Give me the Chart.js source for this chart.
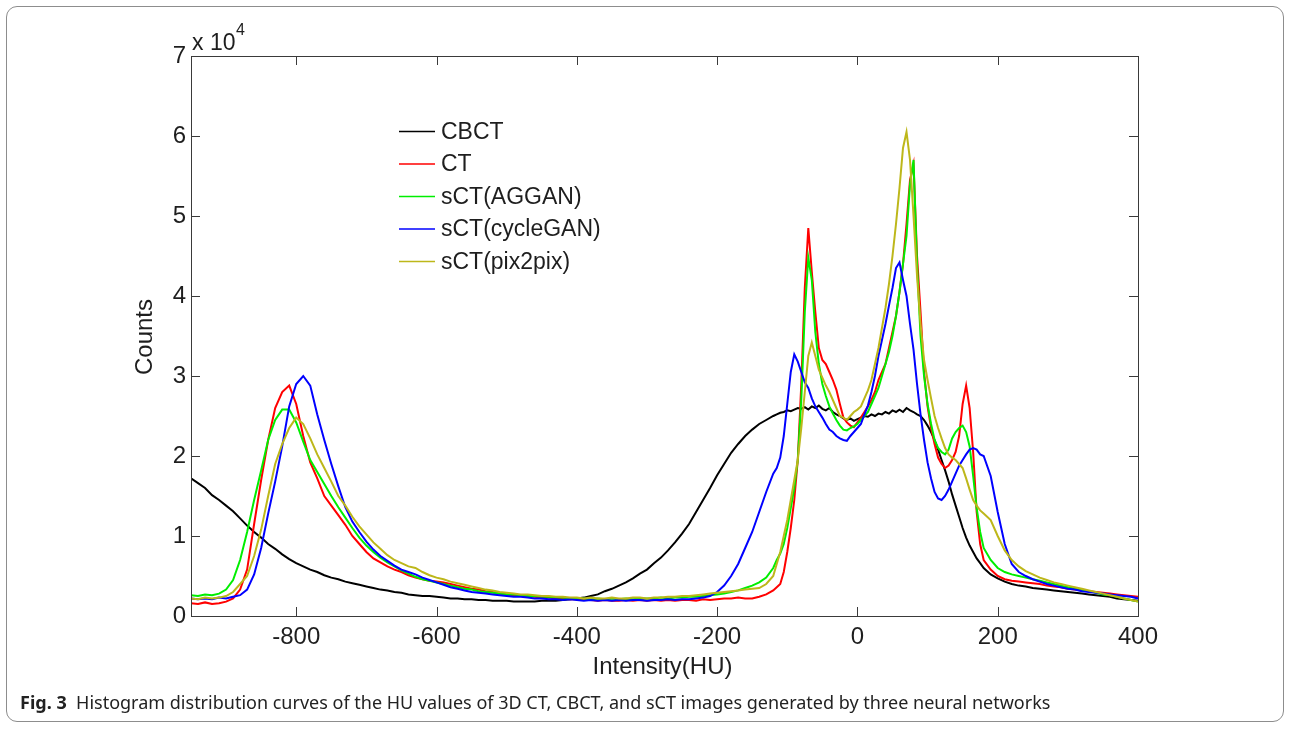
<!DOCTYPE html>
<html>
<head>
<meta charset="utf-8">
<script src="https://cdn.jsdelivr.net/npm/chart.js@4.4.1/dist/chart.umd.min.js"></script>
<style>
  body { margin: 0; background: #fff; }
  #wrap { position: relative; width: 1290px; height: 729px; overflow: hidden; }
  #frame { position: absolute; left: 6px; top: 6px; width: 1276px; height: 714px;
           border: 1.5px solid #8d8d8d; border-radius: 11px; }
  #myChart { position: absolute; left: 0; top: 0; }
  #caption { position: absolute; left: 20px; top: 690px; font-family: "Noto Sans", sans-serif;
             font-size: 18px; color: #222; white-space: nowrap; }
</style>
</head>
<body>
<div id="wrap">
  <div id="frame"></div>
  <canvas id="myChart" width="1290" height="700"></canvas>
  <div id="caption"><b>Fig. 3</b>&nbsp; Histogram distribution curves of the HU values of 3D CT, CBCT, and sCT images generated by three neural networks</div>
</div>
<script>
// --- Histogram bins (HU) ---
const hu = [
  -950, -940, -930, -920, -910, -900, -890, -880, -870, -860,
  -850, -840, -830, -820, -810, -800, -790, -780, -770, -760,
  -750, -740, -730, -720, -710, -700, -690, -680, -670, -660,
  -650, -640, -630, -620, -610, -600, -590, -580, -570, -560,
  -550, -540, -530, -520, -510, -500, -490, -480, -470, -460,
  -450, -440, -430, -420, -410, -400, -390, -380, -370, -360,
  -350, -340, -330, -320, -310, -300, -290, -280, -270, -260,
  -250, -240, -230, -220, -210, -200, -190, -180, -170, -160,
  -150, -140, -130, -120,
  -115, -110, -105, -100, -95, -90, -85, -80, -75, -70,
  -65, -60, -55, -50, -45, -40, -35, -30, -25, -20,
  -15, -10, -5, 0, 5, 10, 15, 20, 25, 30,
  35, 40, 45, 50, 55, 60, 65, 70, 75, 80,
  85, 90, 95, 100, 105, 110, 115, 120, 125, 130,
  135, 140, 145, 150, 155, 160, 165, 170, 175, 180,
  190, 200, 210, 220, 230, 240, 250, 260, 270, 280,
  290, 300, 310, 320, 330, 340, 350, 360, 370, 380,
  390, 400
];

// --- Counts (x 10^4) ---
const cbct = [
  1.72, 1.66, 1.60, 1.51, 1.45, 1.38, 1.31, 1.22, 1.13, 1.05,
  0.98, 0.90, 0.84, 0.77, 0.71, 0.66, 0.62, 0.58, 0.55, 0.51,
  0.48, 0.46, 0.43, 0.41, 0.39, 0.37, 0.35, 0.33, 0.32, 0.30,
  0.29, 0.27, 0.26, 0.25, 0.25, 0.24, 0.23, 0.22, 0.22, 0.21,
  0.21, 0.20, 0.20, 0.19, 0.19, 0.19, 0.18, 0.18, 0.18, 0.18,
  0.19, 0.19, 0.19, 0.20, 0.21, 0.22, 0.23, 0.25, 0.27, 0.31,
  0.34, 0.38, 0.42, 0.47, 0.53, 0.58, 0.66, 0.73, 0.82, 0.92,
  1.03, 1.15, 1.30, 1.45, 1.60, 1.76, 1.90, 2.04, 2.15, 2.25,
  2.33, 2.40, 2.45, 2.50,
  2.52, 2.54, 2.55, 2.57, 2.56, 2.58, 2.60, 2.59, 2.61, 2.58,
  2.62, 2.60, 2.63, 2.59, 2.57, 2.60, 2.55, 2.52, 2.50, 2.47,
  2.45, 2.47, 2.44, 2.46, 2.48, 2.50, 2.49, 2.52, 2.50, 2.53,
  2.52, 2.55, 2.53, 2.57, 2.55, 2.58, 2.55, 2.60, 2.57, 2.55,
  2.52, 2.50, 2.45, 2.38, 2.30, 2.20, 2.08, 1.95, 1.82, 1.68,
  1.52, 1.38, 1.24, 1.10, 0.98, 0.88, 0.80, 0.72, 0.66, 0.60,
  0.52, 0.47, 0.43, 0.40, 0.38, 0.37, 0.35, 0.34, 0.33, 0.32,
  0.31, 0.30, 0.29, 0.28, 0.27, 0.26, 0.25, 0.24, 0.22, 0.21,
  0.20, 0.19
];
const ct = [
  0.16, 0.15, 0.17, 0.15, 0.16, 0.18, 0.22, 0.33, 0.58, 1.15,
  1.70, 2.20, 2.60, 2.80, 2.88, 2.65, 2.25, 1.92, 1.72, 1.50,
  1.38, 1.26, 1.14, 1.00, 0.90, 0.80, 0.72, 0.67, 0.62, 0.58,
  0.55, 0.51, 0.48, 0.46, 0.44, 0.43, 0.42, 0.40, 0.38, 0.36,
  0.34, 0.33, 0.31, 0.30, 0.28, 0.27, 0.26, 0.25, 0.25, 0.24,
  0.23, 0.23, 0.22, 0.22, 0.21, 0.21, 0.20, 0.20, 0.19, 0.20,
  0.19, 0.19, 0.20, 0.19, 0.20, 0.19, 0.20, 0.19, 0.20, 0.19,
  0.20, 0.20, 0.19, 0.21, 0.20, 0.21, 0.22, 0.22, 0.23, 0.22,
  0.22, 0.24, 0.27, 0.32,
  0.36, 0.40, 0.55, 0.80, 1.10, 1.45, 1.95, 2.90, 4.10, 4.85,
  4.30, 3.80, 3.35, 3.20, 3.15, 3.05, 2.95, 2.83, 2.65, 2.48,
  2.42, 2.38, 2.36, 2.42, 2.48, 2.55, 2.62, 2.70, 2.80, 2.95,
  3.05, 3.15, 3.35, 3.55, 3.75, 4.05, 4.40, 4.90, 5.45, 5.65,
  4.50, 3.80, 3.05, 2.62, 2.35, 2.15, 1.98, 1.90, 1.85, 1.88,
  1.95, 2.05, 2.25, 2.65, 2.88, 2.60, 2.05, 1.30, 0.90, 0.70,
  0.58, 0.50, 0.46, 0.44, 0.43, 0.42, 0.41, 0.40, 0.38, 0.37,
  0.36, 0.34, 0.33, 0.32, 0.31, 0.30, 0.29, 0.28, 0.27, 0.26,
  0.25, 0.24
];
const sctAggan = [
  0.26, 0.25, 0.27, 0.26, 0.28, 0.33, 0.45, 0.70, 1.05, 1.45,
  1.82, 2.20, 2.45, 2.58, 2.58, 2.42, 2.18, 1.95, 1.80, 1.65,
  1.50, 1.36, 1.23, 1.10, 0.98, 0.88, 0.80, 0.73, 0.67, 0.62,
  0.57, 0.53, 0.49, 0.46, 0.44, 0.42, 0.40, 0.38, 0.36, 0.34,
  0.33, 0.31, 0.30, 0.29, 0.28, 0.27, 0.27, 0.26, 0.25, 0.25,
  0.24, 0.24, 0.23, 0.23, 0.22, 0.22, 0.22, 0.21, 0.22, 0.21,
  0.22, 0.21, 0.22, 0.21, 0.22, 0.22, 0.22, 0.23, 0.22, 0.23,
  0.23, 0.24, 0.24, 0.25, 0.26, 0.27, 0.28, 0.30, 0.32, 0.35,
  0.38, 0.42, 0.48, 0.60,
  0.70, 0.78, 0.90, 1.10, 1.35, 1.60, 1.95, 2.70, 3.80, 4.48,
  4.20, 3.55, 3.15, 2.90, 2.75, 2.62, 2.53, 2.45, 2.38, 2.33,
  2.32, 2.35, 2.37, 2.40, 2.45, 2.50, 2.55, 2.65, 2.75, 2.85,
  3.00, 3.15, 3.30, 3.50, 3.75, 4.05, 4.40, 4.75, 5.40, 5.70,
  4.40, 3.50, 3.00, 2.65, 2.40, 2.20, 2.10, 2.05, 2.02, 2.08,
  2.22, 2.30, 2.35, 2.38, 2.30, 2.12, 1.75, 1.35, 1.05, 0.85,
  0.70, 0.60, 0.55, 0.52, 0.50, 0.48, 0.46, 0.44, 0.42, 0.40,
  0.38, 0.36, 0.34, 0.32, 0.31, 0.29, 0.27, 0.26, 0.24, 0.22,
  0.20, 0.18
];
const sctCycleGan = [
  0.22, 0.21, 0.22, 0.21, 0.23, 0.22, 0.24, 0.26, 0.33, 0.52,
  0.85, 1.28, 1.68, 2.12, 2.62, 2.90, 3.00, 2.88, 2.52, 2.20,
  1.90, 1.62, 1.36, 1.18, 1.05, 0.93, 0.83, 0.75, 0.69, 0.63,
  0.58, 0.55, 0.52, 0.48, 0.45, 0.42, 0.39, 0.36, 0.34, 0.32,
  0.30, 0.29, 0.28, 0.27, 0.26, 0.25, 0.24, 0.24, 0.23, 0.22,
  0.22, 0.21, 0.21, 0.20, 0.21, 0.20, 0.19, 0.20, 0.19, 0.20,
  0.19, 0.20, 0.19, 0.20, 0.20, 0.19, 0.20, 0.20, 0.21, 0.20,
  0.21, 0.21, 0.22, 0.23, 0.25, 0.30, 0.38, 0.50, 0.65, 0.85,
  1.05, 1.30, 1.55, 1.78,
  1.85, 1.98, 2.25, 2.65, 3.05, 3.27, 3.18, 3.05, 2.92, 2.85,
  2.72, 2.62, 2.55, 2.48, 2.40, 2.33, 2.30, 2.25, 2.22, 2.20,
  2.19, 2.25, 2.30, 2.35, 2.40, 2.52, 2.63, 2.80, 3.00, 3.25,
  3.45, 3.65, 3.88, 4.10, 4.35, 4.42, 4.20, 4.00, 3.65, 3.33,
  2.90, 2.52, 2.20, 1.92, 1.72, 1.55, 1.47, 1.45, 1.50, 1.58,
  1.68, 1.78, 1.88, 1.95, 2.02, 2.08, 2.10, 2.08, 2.02, 2.00,
  1.75, 1.30, 0.90, 0.65, 0.55, 0.50, 0.46, 0.43, 0.40, 0.38,
  0.36, 0.34, 0.33, 0.31, 0.30, 0.29, 0.28, 0.27, 0.26, 0.25,
  0.24, 0.22
];
const sctPix2pix = [
  0.22, 0.21, 0.23, 0.22, 0.23, 0.25, 0.30, 0.40, 0.50, 0.75,
  1.08, 1.50, 1.90, 2.15, 2.35, 2.48, 2.40, 2.22, 2.02, 1.85,
  1.68, 1.50, 1.38, 1.24, 1.12, 1.02, 0.92, 0.84, 0.76, 0.70,
  0.66, 0.62, 0.60, 0.55, 0.51, 0.48, 0.46, 0.43, 0.41, 0.39,
  0.37, 0.35, 0.33, 0.32, 0.30, 0.29, 0.28, 0.27, 0.27, 0.26,
  0.25, 0.25, 0.24, 0.24, 0.23, 0.23, 0.22, 0.23, 0.22, 0.22,
  0.23, 0.22, 0.22, 0.23, 0.23, 0.22, 0.23, 0.23, 0.24, 0.24,
  0.25, 0.25, 0.26, 0.27, 0.28, 0.29, 0.30, 0.31, 0.32, 0.33,
  0.34, 0.35, 0.40, 0.50,
  0.65, 0.80, 1.00, 1.20, 1.45, 1.70, 1.95, 2.35, 2.80, 3.25,
  3.42, 3.25, 3.08, 2.98, 2.88, 2.80, 2.70, 2.60, 2.50, 2.48,
  2.45, 2.50, 2.55, 2.58, 2.62, 2.72, 2.82, 2.95, 3.15, 3.35,
  3.60, 3.85, 4.15, 4.50, 4.90, 5.35, 5.85, 6.05, 5.70, 5.00,
  4.25, 3.65, 3.20, 2.95, 2.72, 2.50, 2.35, 2.22, 2.10, 2.02,
  1.98, 1.95, 1.90, 1.85, 1.72, 1.58, 1.45, 1.38, 1.32, 1.28,
  1.20, 1.00, 0.82, 0.70, 0.62, 0.56, 0.52, 0.48, 0.45, 0.42,
  0.40, 0.38, 0.36, 0.34, 0.32, 0.30, 0.28, 0.26, 0.24, 0.22,
  0.20, 0.18
];

// --- Axis ticks ---
const xTicks = [-800, -600, -400, -200, 0, 200, 400];
const yTicks = [0, 1, 2, 3, 4, 5, 6, 7];

const FONT = '"Liberation Sans", Arial, sans-serif';

function toPoints(vals) {
  return vals.map((v, i) => ({ x: hu[i], y: v }));
}

// --- MATLAB-style box with inward ticks, titles and legend ---
const axesBox = {
  id: 'axesBox',
  afterDatasetsDraw(chart) {
    const { ctx, chartArea: a, scales: { x, y } } = chart;
    ctx.save();
    ctx.strokeStyle = '#3a3a3a';
    ctx.lineWidth = 1;
    ctx.strokeRect(a.left + 0.5, a.top + 0.5, a.right - a.left, a.bottom - a.top);
    ctx.beginPath();
    xTicks.forEach(v => {
      const px = Math.round(x.getPixelForValue(v)) + 0.5;
      ctx.moveTo(px, a.bottom); ctx.lineTo(px, a.bottom - 9);
      ctx.moveTo(px, a.top); ctx.lineTo(px, a.top + 9);
    });
    yTicks.forEach(v => {
      const py = Math.round(y.getPixelForValue(v)) + 0.5;
      ctx.moveTo(a.left, py); ctx.lineTo(a.left + 9, py);
      ctx.moveTo(a.right, py); ctx.lineTo(a.right - 9, py);
    });
    ctx.stroke();
    ctx.restore();
  },
  afterDraw(chart) {
    const { ctx, chartArea: a } = chart;
    ctx.save();
    ctx.fillStyle = '#1e1e1e';
    // axis titles
    ctx.font = '24px ' + FONT;
    ctx.textAlign = 'center';
    ctx.textBaseline = 'middle';
    ctx.fillText('Intensity(HU)', (a.left + a.right) / 2 - 2, 667);
    ctx.save();
    ctx.translate(145, 337);
    ctx.rotate(-Math.PI / 2);
    ctx.fillText('Counts', 0, 0);
    ctx.restore();
    // exponent label
    ctx.textAlign = 'left';
    ctx.textBaseline = 'alphabetic';
    ctx.font = '23px ' + FONT;
    ctx.fillText('x 10', a.left + 1, 50);
    ctx.font = '16px ' + FONT;
    ctx.fillText('4', a.left + 45, 35);
    // legend
    ctx.font = '23px ' + FONT;
    ctx.textBaseline = 'middle';
    chart.data.datasets.forEach((ds, i) => {
      const ly = 131.5 + i * 32.5;
      ctx.strokeStyle = ds.borderColor;
      ctx.lineWidth = 1.5;
      ctx.beginPath();
      ctx.moveTo(399, ly); ctx.lineTo(435, ly);
      ctx.stroke();
      ctx.fillText(ds.label, 441, ly + 1);
    });
    ctx.restore();
  }
};

const ctx = document.getElementById('myChart').getContext('2d');
const histChart = new Chart(ctx, {
  type: 'line',
  data: {
    datasets: [
      { label: 'CBCT', data: toPoints(cbct), borderColor: '#000000', order: 5 },
      { label: 'CT', data: toPoints(ct), borderColor: '#ff0000', order: 4 },
      { label: 'sCT(AGGAN)', data: toPoints(sctAggan), borderColor: '#00ee00', order: 3 },
      { label: 'sCT(cycleGAN)', data: toPoints(sctCycleGan), borderColor: '#0000ff', order: 2 },
      { label: 'sCT(pix2pix)', data: toPoints(sctPix2pix), borderColor: '#bdb71a', order: 1 }
    ]
  },
  options: {
    responsive: false,
    animation: false,
    devicePixelRatio: 1,
    layout: { padding: { left: 131, top: 56, right: 152, bottom: 44 } },
    elements: {
      point: { radius: 0 },
      line: { borderWidth: 2, tension: 0 }
    },
    plugins: {
      legend: { display: false },
      tooltip: { enabled: false }
    },
    scales: {
      x: {
        type: 'linear',
        min: -950,
        max: 400,
        afterBuildTicks: s => { s.ticks = xTicks.map(v => ({ value: v })); },
        afterFit: s => { s.height = 40; },
        grid: { display: false, drawTicks: false },
        border: { display: false },
        ticks: { padding: 7, color: '#1e1e1e', font: { family: FONT, size: 24 }, maxRotation: 0 }
      },
      y: {
        min: 0,
        max: 7,
        afterBuildTicks: s => { s.ticks = yTicks.map(v => ({ value: v })); },
        afterFit: s => { s.width = 60; },
        grid: { display: false, drawTicks: false },
        border: { display: false },
        ticks: { padding: 5, color: '#1e1e1e', font: { family: FONT, size: 24 } }
      }
    }
  },
  plugins: [axesBox]
});
</script>
</body>
</html>
